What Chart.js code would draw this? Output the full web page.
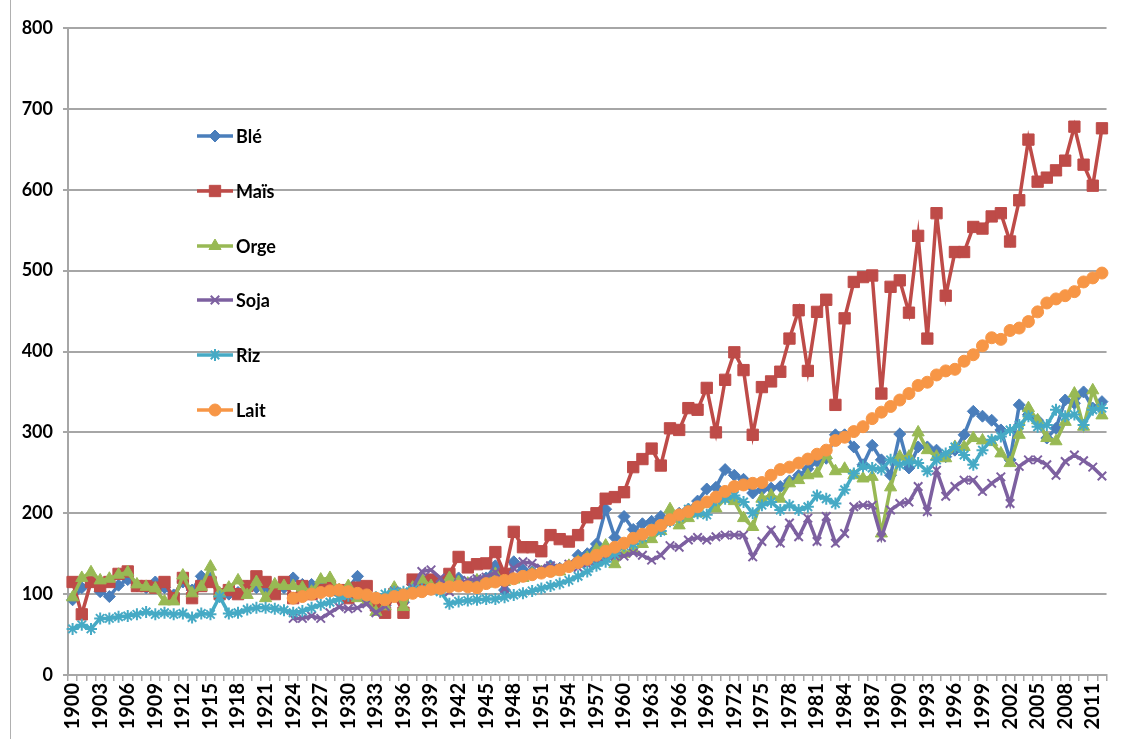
<!DOCTYPE html>
<html><head><meta charset="utf-8">
<script src="https://cdn.jsdelivr.net/npm/chart.js@4/dist/chart.umd.min.js"></script>
<style>html,body{margin:0;padding:0;background:#fff;}#wrap{position:absolute;left:0;top:0;width:1128px;height:739px;}#frame{position:absolute;left:10px;top:0;width:1px;height:739px;background:#b0b0b0;}</style>
</head><body><div id="wrap"><canvas id="c" width="1128" height="739"></canvas><div id="frame"></div></div>
<script>
const years = [
1900,1901,1902,1903,1904,1905,1906,1907,1908,1909,
1910,1911,1912,1913,1914,1915,1916,1917,1918,1919,
1920,1921,1922,1923,1924,1925,1926,1927,1928,1929,
1930,1931,1932,1933,1934,1935,1936,1937,1938,1939,
1940,1941,1942,1943,1944,1945,1946,1947,1948,1949,
1950,1951,1952,1953,1954,1955,1956,1957,1958,1959,
1960,1961,1962,1963,1964,1965,1966,1967,1968,1969,
1970,1971,1972,1973,1974,1975,1976,1977,1978,1979,
1980,1981,1982,1983,1984,1985,1986,1987,1988,1989,
1990,1991,1992,1993,1994,1995,1996,1997,1998,1999,
2000,2001,2002,2003,2004,2005,2006,2007,2008,2009,
2010,2011,2012];

const ble = [
93,108,115,103,97,111,118,110,108,115,
108,99,115,105,122,120,97,100,102,110,
108,106,106,108,120,112,112,110,112,102,
108,122,100,90,86,100,90,112,118,115,
112,118,120,112,117,120,135,105,140,130,
128,128,135,132,135,148,150,162,205,170,
196,180,187,190,196,195,200,205,215,230,
232,254,247,242,225,229,231,233,240,247,
255,264,268,297,297,282,260,284,266,247,
298,256,282,282,278,270,278,297,326,320,
315,303,266,334,322,315,293,305,340,336,
350,330,338];

const mais = [
115,75,115,110,115,125,128,110,110,108,
115,95,120,95,110,115,100,105,100,110,
122,115,100,115,95,110,100,105,110,105,
95,108,110,86,77,100,77,118,115,118,
115,125,146,133,137,138,152,125,177,158,
158,153,173,168,165,173,195,200,218,220,
226,257,267,280,259,305,303,330,328,355,
300,365,399,377,297,356,363,375,416,451,
376,449,464,334,441,486,492,494,348,480,
488,448,543,416,571,469,523,523,554,552,
567,571,536,587,662,610,615,624,636,678,
631,605,676];

const orge = [
96,120,127,117,119,124,127,112,109,107,
91,91,123,101,109,134,101,108,117,99,
115,95,112,110,110,108,103,118,120,105,
110,95,90,78,85,108,84,108,118,110,
112,120,115,113,117,113,125,115,118,120,
125,127,130,128,135,140,145,155,160,137,
150,155,162,168,178,205,185,194,200,212,
206,218,215,194,183,218,222,218,237,241,
247,249,272,252,255,247,243,245,175,232,
270,270,300,278,270,268,282,282,293,290,
288,274,262,297,330,315,293,289,313,348,
307,352,321];

const soja = [
null,null,null,null,null,null,null,null,null,null,
null,null,null,null,null,null,null,null,null,null,
null,null,null,null,70,70,73,70,77,84,
82,83,88,77,85,104,100,108,128,130,
120,103,113,117,119,121,127,107,132,140,
138,132,135,132,137,133,137,140,145,147,
147,151,148,142,148,160,158,167,170,167,
171,173,173,173,146,165,179,163,188,171,
194,165,196,163,175,208,210,210,170,204,
212,214,233,202,253,221,233,241,241,227,
237,245,212,258,266,266,260,247,264,272,
265,257,246];

const riz = [
57,62,57,70,70,72,73,75,78,75,
77,75,76,71,76,75,97,76,77,81,
83,83,82,80,77,79,83,87,90,94,
98,100,98,96,100,103,103,105,106,106,
103,88,91,92,93,94,94,96,99,101,
104,107,110,113,117,122,128,135,140,150,
160,162,170,180,178,190,195,205,200,198,
216,218,222,214,200,210,214,204,210,204,
208,222,218,212,229,249,258,256,254,266,
260,264,262,252,266,274,282,272,260,278,
291,295,303,309,320,307,309,328,320,322,
309,328,330];

const lait = [
null,null,null,null,null,null,null,null,null,null,
null,null,null,null,null,null,null,null,null,null,
null,null,null,null,95,97,100,102,104,105,
103,101,99,95,93,97,99,101,103,106,
107,109,110,109,108,113,115,117,119,122,
124,126,128,130,134,139,143,148,153,158,
163,169,174,179,185,192,198,202,208,214,
220,227,233,235,237,238,247,254,257,262,
267,273,278,290,294,301,307,317,325,332,
340,348,358,362,371,376,378,388,396,407,
417,415,426,429,437,449,460,465,469,474,
486,491,497];

const seriesNames = ['Blé','Maïs','Orge','Soja','Riz','Lait'];
const yTicks = [0,100,200,300,400,500,600,700,800];

const FONT = 'Lato, "Liberation Sans", sans-serif';
const gridCol = '#a6a6a6';

const styles = [
  {c:'#4A7EBB', p:'rectRot', r:6},
  {c:'#BE4B48', p:'rect', r:8},
  {c:'#98B954', p:'triangle', r:7},
  {c:'#7D60A0', p:'crossRot', r:6},
  {c:'#46AAC5', p:'star', r:6},
  {c:'#F79646', p:'circle', r:6}
];
const values = [ble, mais, orge, soja, riz, lait];

const datasets = values.map((v,i)=>({
  label: seriesNames[i],
  data: v,
  borderColor: styles[i].c,
  backgroundColor: styles[i].c,
  pointBackgroundColor: styles[i].c,
  pointBorderColor: styles[i].c,
  pointStyle: styles[i].p,
  pointRadius: styles[i].r,
  pointBorderWidth: (styles[i].p==='crossRot'||styles[i].p==='star') ? 2 : 1,
  borderWidth: 3.5,
  tension: 0,
  fill: false,
  spanGaps: false,
  order: 6 - i
}));

const legendPlugin = {
  id: 'customLegend',
  afterDraw(chart) {
    const ctx = chart.ctx;
    const x0 = 197, x1 = 233, mx = 215;
    const ys = [136, 191, 246, 300, 355, 410];
    ctx.save();
    seriesNames.forEach((name, i) => {
      const s = styles[i];
      const y = ys[i];
      ctx.strokeStyle = s.c;
      ctx.lineWidth = 3.5;
      ctx.beginPath(); ctx.moveTo(x0, y); ctx.lineTo(x1, y); ctx.stroke();
      ctx.fillStyle = s.c;
      ctx.lineWidth = (s.p==='crossRot'||s.p==='star') ? 2 : 1;
      Chart.helpers.drawPoint(ctx, {pointStyle: s.p, radius: s.r, rotation: 0, borderWidth: ctx.lineWidth}, mx, y);
      ctx.fillStyle = '#000';
      ctx.font = 'bold 18px ' + FONT;
      ctx.textBaseline = 'middle';
      ctx.textAlign = 'left';
      ctx.fillText(name, 236, y + 1);
    });
    ctx.restore();
  }
};

new Chart(document.getElementById('c'), {
  type: 'line',
  data: { labels: years.map(String), datasets },
  options: {
    responsive: false,
    animation: false,
    devicePixelRatio: 1,
    layout: { padding: { left: 0, right: 7, top: 28, bottom: 0 } },
    plugins: { legend: { display: false }, tooltip: { enabled: false } },
    scales: {
      x: {
        type: 'category',
        offset: true,
        grid: { display: true, drawOnChartArea: false, drawTicks: true, tickLength: 6, color: gridCol, lineWidth: 1.5, offset: true },
        border: { display: true, color: gridCol, width: 2 },
        ticks: {
          autoSkip: false, maxRotation: 90, minRotation: 90, padding: 2,
          color: '#000', font: { family: FONT, size: 20, weight: 'bold' },
          callback: function(val, idx) { return idx % 3 === 0 ? this.getLabelForValue(val) : ''; }
        },
        afterFit(scale) { scale.height = 64; }
      },
      y: {
        min: 0, max: 800,
        afterBuildTicks(scale) { scale.ticks = yTicks.map(v => ({value: v})); },
        grid: { color: gridCol, lineWidth: 2, tickLength: 5, drawTicks: true },
        border: { display: true, color: gridCol, width: 2 },
        ticks: { color: '#000', padding: 10, font: { family: FONT, size: 18, weight: 'bold' } },
        afterFit(scale) { scale.width = 68; }
      }
    }
  },
  plugins: [legendPlugin]
});
</script></body></html>
